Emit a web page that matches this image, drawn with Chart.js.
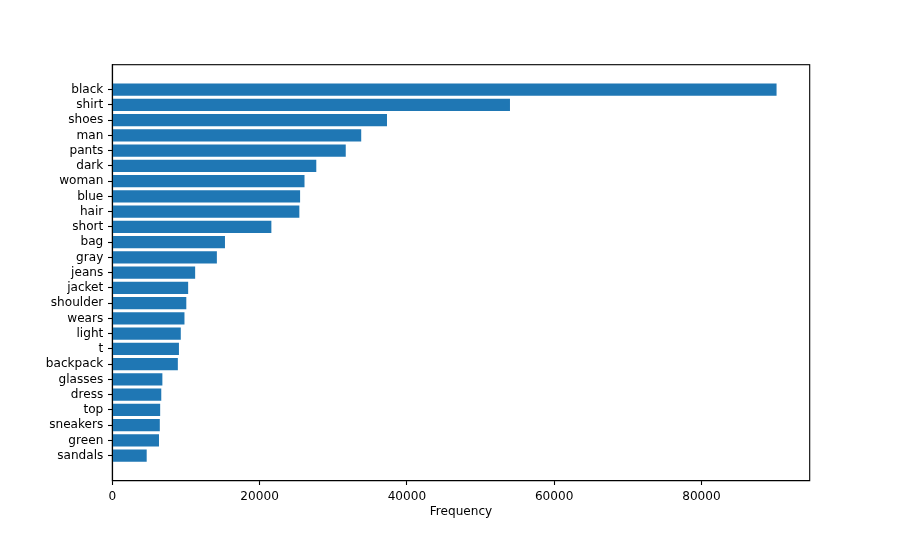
<!DOCTYPE html>
<html>
<head>
<meta charset="utf-8">
<script src="https://cdn.jsdelivr.net/npm/chart.js@4"></script>
<style>
  html, body { margin: 0; padding: 0; background: #fff; }
  #wrap { width: 900px; height: 540px; }
</style>
</head>
<body>
<div id="wrap"><canvas id="c"></canvas></div>
<script>
// word frequencies, top to bottom
const words = ['black', 'shirt', 'shoes', 'man', 'pants', 'dark', 'woman', 'blue', 'hair', 'short',
  'bag', 'gray', 'jeans', 'jacket', 'shoulder', 'wears', 'light', 't', 'backpack', 'glasses',
  'dress', 'top', 'sneakers', 'green', 'sandals'];
const counts = [90200, 54000, 37300, 33800, 31700, 27700, 26100, 25500, 25400, 21600,
  15300, 14200, 11250, 10300, 10050, 9800, 9300, 9050, 8900, 6800,
  6650, 6500, 6450, 6340, 4670];
const xTicks = [0, 20000, 40000, 60000, 80000];

const FONT = { family: 'DejaVu Sans', size: 12.1 };

// top + right spines (Chart.js only draws left/bottom)
const frame = {
  id: 'frame',
  afterDraw(chart) {
    const { ctx, chartArea: a } = chart;
    ctx.save();
    ctx.strokeStyle = '#000';
    ctx.lineWidth = 1.1;
    ctx.strokeRect(a.left, a.top, a.right - a.left, a.bottom - a.top);
    ctx.restore();
  },
};

new Chart(document.getElementById('c'), {
  type: 'bar',
  data: {
    datasets: [{
      data: counts.map((v, i) => ({ x: v, y: i })),
      backgroundColor: '#1f77b4',
      borderWidth: 0,
      barPercentage: 0.8,
      categoryPercentage: 1,
    }],
  },
  plugins: [frame],
  options: {
    indexAxis: 'y',
    responsive: true,
    maintainAspectRatio: false,
    animation: false,
    layout: { padding: { top: 64.7, right: 90.3, left: 0, bottom: 0 } },
    plugins: { legend: { display: false }, tooltip: { enabled: false } },
    scales: {
      x: {
        type: 'linear',
        min: 0,
        max: 94700,
        afterFit: (s) => { s.height = 540 - 480.7; },
        afterBuildTicks: (s) => { s.ticks = xTicks.map((v) => ({ value: v })); },
        ticks: { color: '#000', font: FONT, padding: 5, callback: (v) => String(v), maxRotation: 0 },
        grid: { drawOnChartArea: false, tickLength: 4.3, tickColor: '#000', tickWidth: 1.1 },
        border: { color: '#000', width: 1.1 },
        title: { display: true, text: 'Frequency', color: '#000', font: FONT, padding: { top: 4, bottom: 20.5 } },
      },
      y: {
        type: 'linear',
        reverse: true,
        offset: false,
        min: -1.64,
        max: 25.64,
        afterFit: (s) => { s.width = 112.3; },
        afterBuildTicks: (s) => { s.ticks = words.map((_, i) => ({ value: i })); },
        ticks: { color: '#000', font: FONT, padding: 4.7, autoSkip: false, callback: (v) => words[v] },
        grid: { drawOnChartArea: false, offset: false, tickLength: 4.3, tickColor: '#000', tickWidth: 1.1 },
        border: { color: '#000', width: 1.1 },
      },
    },
  },
});
</script>
</body>
</html>
